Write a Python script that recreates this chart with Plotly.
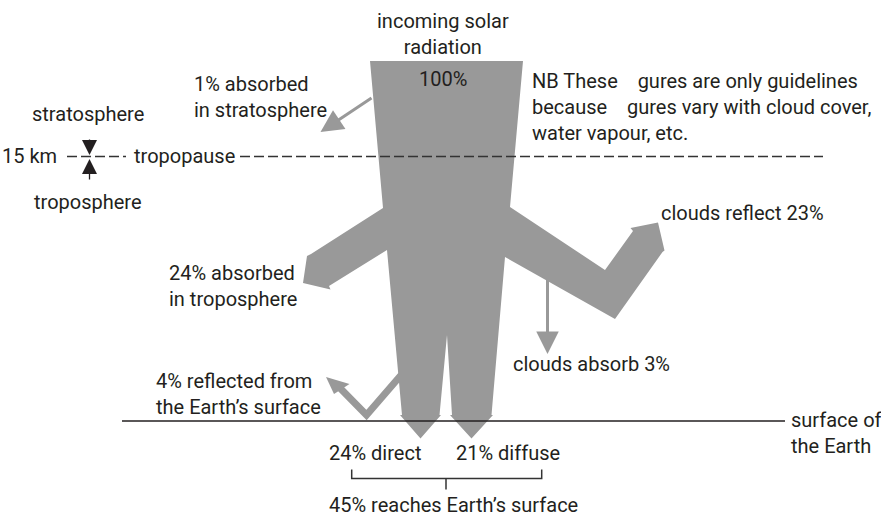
import plotly.graph_objects as go

# ---- data: percentages of incoming solar radiation ----
solar_in = 100
strat_abs = 1
tropo_abs = 24
cloud_reflect = 23
cloud_abs = 3
surf_reflect = 4
direct = 24
diffuse = 21
reach = direct + diffuse  # 45

# ---- diagram geometry (diagram units, y downward) ----
flow_x = [370, 523, 510, 605, 633, 630.5, 658, 664.5, 662.5, 615, 505, 491.5, 493, 471.5, 450, 452,
          447, 439.5, 441, 420.5, 400, 402, 387, 329, 330.5, 303, 307, 311, 383, 370]
flow_y = [61, 61, 207, 270, 231, 228, 222.5, 250.5, 252, 319, 257, 415, 415, 438.5, 415, 415,
          335, 415, 415, 438.5, 415, 415, 250, 286, 289.5, 283, 256, 254, 208, 61]

refl_x = [402, 366.5, 338]
refl_y = [374, 415, 386]
refl_head_x = [326, 334, 349.5, 326]
refl_head_y = [377, 394, 384, 377]

surface_x = [122, 785]
surface_y = [421, 421]

tropo_dash_x = [[67, 126], [240, 823]]
tropo_y = 156.5

bracket_x = [351.7, 351.7, 541.7, 541.7]
bracket_y = [469.5, 478.5, 478.5, 469.5]
bracket_mid_x = [446, 446]
bracket_mid_y = [478.5, 489.5]

GREY = "#999999"
INK = "#231f20"
FONT = "Roboto"
FS = 20

fig = go.Figure()

# reflected arm (under main flow)
fig.add_trace(go.Scatter(x=refl_x, y=refl_y, mode="lines",
                         line=dict(color=GREY, width=7), hoverinfo="skip"))
fig.add_trace(go.Scatter(x=refl_head_x, y=refl_head_y, mode="lines", fill="toself",
                         fillcolor=GREY, line=dict(color=GREY, width=0), hoverinfo="skip"))
# main flow
fig.add_trace(go.Scatter(x=flow_x, y=flow_y, mode="lines", fill="toself",
                         fillcolor=GREY, line=dict(color=GREY, width=0), hoverinfo="skip"))
# surface line
fig.add_trace(go.Scatter(x=surface_x, y=surface_y, mode="lines",
                         line=dict(color=INK, width=1.5), hoverinfo="skip"))
# tropopause dashed
for seg in tropo_dash_x:
    fig.add_trace(go.Scatter(x=seg, y=[tropo_y, tropo_y], mode="lines",
                             line=dict(color="#333333", width=1.5, dash="10px,4px"), hoverinfo="skip"))
# bracket
fig.add_trace(go.Scatter(x=bracket_x, y=bracket_y, mode="lines",
                         line=dict(color="#333333", width=1.5), hoverinfo="skip"))
fig.add_trace(go.Scatter(x=bracket_mid_x, y=bracket_mid_y, mode="lines",
                         line=dict(color="#333333", width=1.5), hoverinfo="skip"))

# thin arrows: (tip_x, tip_y, tail_x, tail_y, color, width, size)
arrows = [
    (320.5, 132, 373, 97, GREY, 3, 1.5),
    (547.5, 354, 547.5, 273, GREY, 3, 1.5),
    (89.5, 155, 89.5, 138, INK, 1.3, 2.3),
    (89.5, 159, 89.5, 181, INK, 1.3, 2.3),
]
for tx, ty, ax_, ay_, col, w, s in arrows:
    fig.add_annotation(x=tx, y=ty, ax=ax_, ay=ay_, xref="x", yref="y", axref="x", ayref="y",
                       showarrow=True, arrowhead=2, arrowsize=s,
                       arrowwidth=w, arrowcolor=col, text="")

labels = [
    ("incoming solar<br>radiation", 443, 34, "center"),
    (f"{solar_in}%", 443, 79, "center"),
    (f"{strat_abs}% absorbed<br>in stratosphere", 192, 97, "left"),
    ("stratosphere", 88, 114, "center"),
    ("15 km", 0, 156, "left"),
    ("tropopause", 132, 156, "left"),
    ("troposphere", 88, 202, "center"),
    ("NB These\u00a0\u00a0\u00a0 gures are only guidelines<br>because\u00a0\u00a0\u00a0 gures vary with cloud cover,<br>water vapour, etc.",
     530, 107, "left"),
    (f"clouds reflect {cloud_reflect}%", 659, 213, "left"),
    (f"{tropo_abs}% absorbed<br>in troposphere", 167, 286, "left"),
    (f"clouds absorb {cloud_abs}%", 511, 364, "left"),
    (f"{surf_reflect}% reflected from<br>the Earth\u2019s surface", 154, 394, "left"),
    ("surface of<br>the Earth", 789, 433, "left"),
    (f"{direct}% direct", 327, 453, "left"),
    (f"{diffuse}% diffuse", 454, 453, "left"),
    (f"{reach}% reaches Earth\u2019s surface", 327, 505, "left"),
]
for txt, x, y, anc in labels:
    fig.add_annotation(x=x, y=y, xref="x", yref="y", text=txt, showarrow=False,
                       xanchor=anc, yanchor="middle", align=anc,
                       font=dict(family=FONT, size=FS, color=INK))

fig.update_layout(
    width=881, height=516, margin=dict(l=0, r=0, t=0, b=0),
    paper_bgcolor="white", plot_bgcolor="white", showlegend=False,
    xaxis=dict(range=[0, 881], visible=False, fixedrange=True),
    yaxis=dict(range=[516, 0], visible=False, fixedrange=True),
)
fig.write_html("out.html", config={"displayModeBar": False},
               post_script="document.body.style.margin='0';document.body.style.overflow='hidden';")
